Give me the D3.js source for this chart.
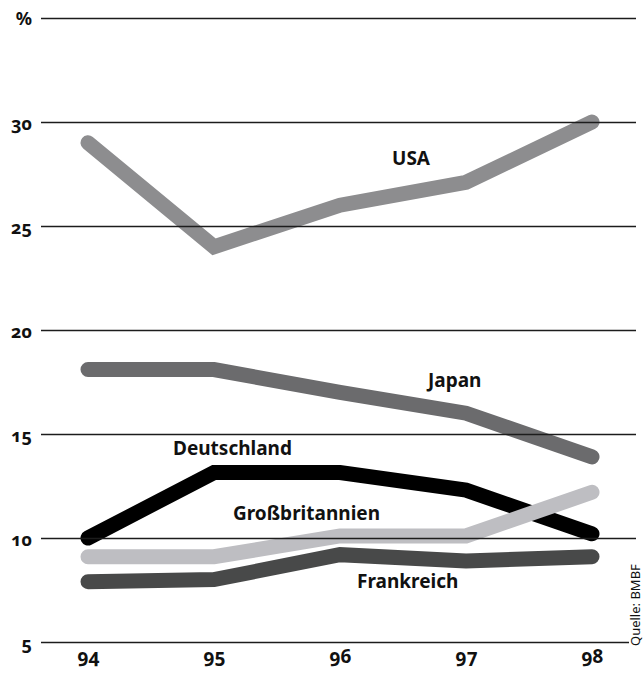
<!DOCTYPE html>
<html>
<head>
<meta charset="utf-8">
<script src="https://cdn.jsdelivr.net/npm/d3@7/dist/d3.min.js"></script>
<style>
  html, body { margin: 0; padding: 0; background: #fff; }
  svg { display: block; }
  text {
    font-family: "Noto Sans", "Open Sans", sans-serif;
    font-weight: 700;
    font-variant-numeric: oldstyle-nums;
    font-feature-settings: "onum" 1;
    fill: #111;
  }
</style>
</head>
<body>
<svg id="chart" width="644" height="676"></svg>
<script>
// Years on the horizontal axis
const years = ["94", "95", "96", "97", "98"];

// Shares in percent, one array per country
const usa = [29.0, 24.0, 26.0, 27.1, 30.0];
const japan = [18.1, 18.1, 17.0, 16.0, 13.9];
const deutschland = [10.0, 13.15, 13.15, 12.3, 10.2];
const grossbritannien = [9.1, 9.1, 10.1, 10.1, 12.2];
const frankreich = [7.9, 8.0, 9.2, 8.9, 9.1];

// Gridline values and their labels (top line carries the unit)
const yTicks = [5, 10, 15, 20, 25, 30, 35];
const yTickLabels = ["5", "10", "15", "20", "25", "30", "%"];

const series = [
  { name: "USA", values: usa, color: "#8d8d8f", label: { x: 430, y: 165, anchor: "end" } },
  { name: "Japan", values: japan, color: "#6b6b6d", label: { x: 428, y: 387, anchor: "start" } },
  { name: "Deutschland", values: deutschland, color: "#000000", label: { x: 173, y: 455, anchor: "start" } },
  { name: "Frankreich", values: frankreich, color: "#484949", label: { x: 357, y: 588, anchor: "start" } },
  { name: "Großbritannien", values: grossbritannien, color: "#bebec2", label: { x: 233, y: 520, anchor: "start" } }
];

const svg = d3.select("#chart");

const x = d3.scalePoint().domain(years).range([88, 592]);
const y = d3.scaleLinear().domain([5, 35]).range([642, 18]);

const line = d3.line()
  .x((d, i) => x(years[i]))
  .y(d => y(d));

// Country lines
const lines = svg.append("g");
series.forEach(s => {
  lines.append("path")
    .datum(s.values)
    .attr("d", line)
    .attr("fill", "none")
    .attr("stroke", s.color)
    .attr("stroke-width", 15)
    .attr("stroke-linecap", "round")
    .attr("stroke-linejoin", "miter");
});

// Horizontal gridlines, drawn above the lines
const yAxis = d3.axisLeft(y)
  .tickValues(yTicks)
  .tickFormat((d, i) => yTickLabels[i])
  .tickSize(-(636 - 41))
  .tickPadding(9);

const gy = svg.append("g")
  .attr("transform", "translate(41,0)")
  .call(yAxis);
gy.select(".domain").remove();
gy.selectAll(".tick line")
  .attr("stroke", "#1c1c1c")
  .attr("stroke-width", 1.3)
  .attr("x2", d => d === 5 ? 629 - 41 : 636 - 41);
gy.selectAll(".tick text")
  .attr("fill", "#111")
  .attr("font-size", 18)
  .attr("dy", d => d === 35 ? "0.35em" : "0.42em")
  .attr("x", -9);

// Year labels
const xAxis = d3.axisBottom(x).tickSize(0).tickPadding(0);
const gx = svg.append("g")
  .attr("transform", "translate(0,663)")
  .call(xAxis);
gx.select(".domain").remove();
gx.selectAll(".tick text")
  .attr("fill", "#111")
  .attr("font-size", 19)
  .attr("dy", 0)
  .attr("y", 0);

// Country labels
svg.append("g").selectAll("text")
  .data(series)
  .join("text")
  .attr("x", d => d.label.x)
  .attr("y", d => d.label.y)
  .attr("text-anchor", d => d.label.anchor)
  .attr("font-size", 19)
  .text(d => d.name);

// Source note
svg.append("text")
  .attr("transform", "translate(640,646) rotate(-90)")
  .attr("font-size", 13)
  .style("font-weight", 400)
  .attr("fill", "#222")
  .text("Quelle: BMBF");
</script>
</body>
</html>
